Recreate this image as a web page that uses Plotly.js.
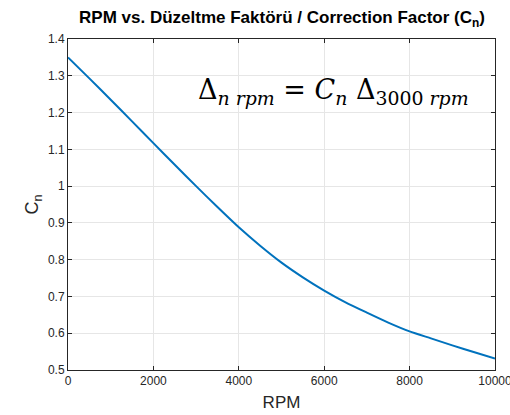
<!DOCTYPE html>
<html><head><meta charset="utf-8">
<script src="https://cdn.plot.ly/plotly-3.0.1.min.js"></script>
<style>html,body{margin:0;padding:0;background:#fff}#c{width:510px;height:415px}</style>
</head><body><div id="c"></div>
<script>
const rpm = [0,500,1000,1500,2000,2500,3000,3500,4000,4500,5000,5500,6000,6500,7000,7500,8000,8500,9000,9500,10000];
const cn  = [1.35,1.293,1.235,1.176,1.117,1.058,1.0,0.943,0.888,0.838,0.792,0.752,0.716,0.684,0.656,0.629,0.605,0.586,0.567,0.549,0.531];
const xTicks = [0,2000,4000,6000,8000,10000];
const yTicks = [0.5,0.6,0.7,0.8,0.9,1,1.1,1.2,1.3,1.4];
const yTickText = ['0.5','0.6','0.7','0.8','0.9','1','1.1','1.2','1.3','1.4'];

const axisCommon = {
  showline:true, linecolor:'#262626', linewidth:1, mirror:'ticks',
  ticks:'inside', ticklen:4, tickcolor:'#262626',
  showgrid:true, gridcolor:'#e6e6e6', gridwidth:1, zeroline:false,
  ticklabeloverflow:'allow',
  tickfont:{family:'Liberation Sans, Arial, sans-serif', size:12, color:'#262626'}
};
const layout = {
  width:510, height:415,
  margin:{l:68, r:15, t:39, b:45},
  paper_bgcolor:'#fff', plot_bgcolor:'#fff',
  showlegend:false,
  title:{text:'<b>RPM vs. Düzeltme Faktörü / Correction Factor (C<sub>n</sub>)</b>',
    font:{family:'Liberation Sans, Arial, sans-serif', size:17, color:'#000'},
    x:0.553, xanchor:'center', y:0.958, yanchor:'middle'},
  xaxis:Object.assign({}, axisCommon, {range:[0,10000], tickvals:xTicks, ticktext:xTicks.map(String),
    title:{text:'RPM', font:{family:'Liberation Sans, Arial, sans-serif', size:17, color:'#262626'}, standoff:8}}),
  yaxis:Object.assign({}, axisCommon, {range:[0.5,1.4], tickvals:yTicks, ticktext:yTickText,
    title:{text:'C<sub>n</sub>', font:{family:'Liberation Sans, Arial, sans-serif', size:18, color:'#262626'}, standoff:4}}),
  annotations:[{
    x:6206, y:1.256, xref:'x', yref:'y', showarrow:false, xanchor:'center', yanchor:'middle',
    text:'Δ<sub><i>n rpm</i></sub> = <i>C</i><sub><i>n</i></sub> Δ<sub>3000 <i>rpm</i></sub>',
    font:{family:'DejaVu Serif, Liberation Serif, serif', size:27, color:'#000'}
  }]
};
Plotly.newPlot('c', [{
  x:rpm, y:cn, type:'scatter', mode:'lines',
  line:{color:'#0072BD', width:2, shape:'spline', smoothing:0.6}
}], layout, {staticPlot:true, displayModeBar:false});
</script></body></html>
